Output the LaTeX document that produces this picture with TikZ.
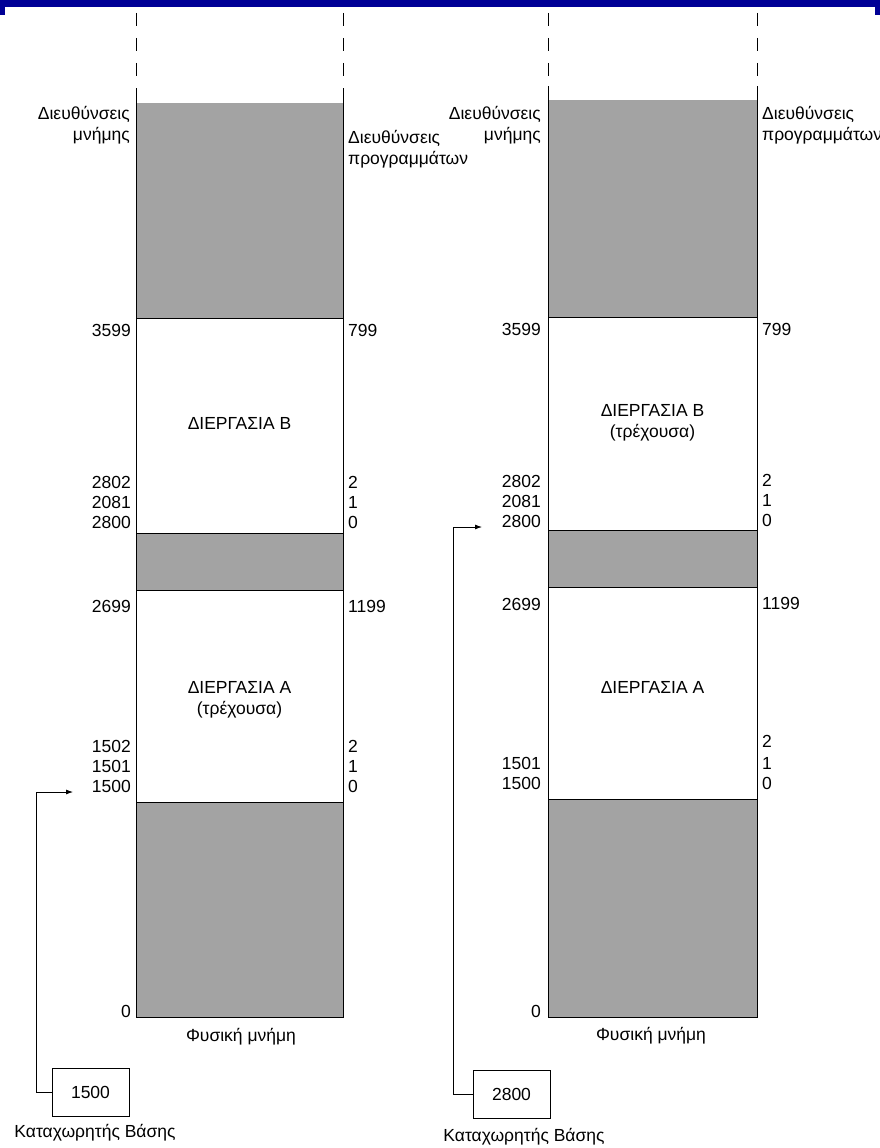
\documentclass[tikz,border=0pt]{standalone}
\usepackage{fontspec}
\setmainfont{Liberation Sans}
\usetikzlibrary{arrows.meta}
\definecolor{barblue}{RGB}{0,0,150}

\begin{document}
\begin{tikzpicture}[x=1pt, y=-1pt,
  font=\fontsize{17.5}{21}\selectfont,
  lab/.style={inner sep=0pt},
  lft/.style={lab, anchor=base east, align=right},
  rgt/.style={lab, anchor=base west, align=left},
  mid/.style={lab, anchor=base, align=center},
  free/.style={fill=black!36},
  col/.style={line width=1pt},
  rail/.style={col, dash pattern=on 13pt off 12pt},
  regbox/.style={draw, line width=0.9pt, minimum width=77pt, minimum height=48pt, inner sep=0pt},
  arr/.style={-{Latex[length=7pt,width=5pt]}, line width=0.8pt}
]
\useasboundingbox (0,0) rectangle (880,1148);
% ----- slide bar -----
\fill[barblue] (0,0) rectangle (880,7);
\fill[barblue] (0,7) rectangle (5,15);
\fill[barblue] (875,7) rectangle (880,15);

% ----- left memory (process A running) -----
\fill[free] (136,103) rectangle (343,318);
\fill[free] (136,533) rectangle (343,590);
\fill[free] (136,802) rectangle (343,1017);
\draw[col] (136,88) -- (136,1017) -- (343,1017) -- (343,88);
\foreach \y in {318,533,590,802}{\draw[col] (136,\y) -- (343,\y);}
\draw[rail] (136,13) -- (136,88);
\draw[rail] (343,13) -- (343,88);

% two-line labels sit on the baseline of their last line
\node[lft] (memL) at (130,140) {Διευθύνσεις\\μνήμης};
\node[rgt] (progL) at (348,164) {Διευθύνσεις\\προγραμμάτων};
\foreach \v/\y in {3599/336, 2802/488, 2081/508, 2800/528, 2699/612, 1502/752, 1501/772, 1500/792, 0/1017}
  {\node[lft] (aL\v) at (131,\y) {\v};}
\foreach \v/\y in {799/336, 2/488, 1/508, 0/528}
  {\node[rgt] (bL\v) at (348,\y) {\v};}
\foreach \v/\y in {1199/612, 2/752, 1/772, 0/792}
  {\node[rgt] (cL\v) at (348,\y) {\v};}
\node[mid] (procBL) at (239.5,429) {ΔΙΕΡΓΑΣΙΑ Β};
\node[mid] (procAL) at (239.5,714) {ΔΙΕΡΓΑΣΙΑ Α\\(τρέχουσα)};
\node[mid] (physL) at (241,1041) {Φυσική μνήμη};

% ----- right memory (process B running) -----
\fill[free] (548,100) rectangle (757,317);
\fill[free] (548,530) rectangle (757,587);
\fill[free] (548,799) rectangle (757,1017);
\draw[col] (548,86) -- (548,1017) -- (757,1017) -- (757,86);
\foreach \y in {317,530,587,799}{\draw[col] (548,\y) -- (757,\y);}
\draw[rail] (548,13) -- (548,86);
\draw[rail] (757,13) -- (757,86);

\node[lft] (memR) at (541,140) {Διευθύνσεις\\μνήμης};
\node[rgt] (progR) at (762,140) {Διευθύνσεις\\προγραμμάτων};
\foreach \v/\y in {3599/335, 2802/487, 2081/507, 2800/527, 2699/610, 1501/769, 1500/789, 0/1017}
  {\node[lft] (aR\v) at (541,\y) {\v};}
\foreach \v/\y in {799/335, 2/486, 1/506, 0/526}
  {\node[rgt] (bR\v) at (762,\y) {\v};}
\foreach \v/\y in {1199/609, 2/747, 1/769, 0/789}
  {\node[rgt] (cR\v) at (762,\y) {\v};}
\node[mid] (procBR) at (652.5,437) {ΔΙΕΡΓΑΣΙΑ Β\\(τρέχουσα)};
\node[mid] (procAR) at (652.5,693) {ΔΙΕΡΓΑΣΙΑ Α};
\node[mid] (physR) at (651,1040) {Φυσική μνήμη};

% ----- base registers -----
\coordinate (ptrL) at (73,792);
\coordinate (ptrR) at (482,527);
\node[regbox] (regL) at (90.5,1092) {1500};
\node[regbox] (regR) at (511.5,1094) {2800};
\node[mid] (capL) at (95,1137) {Καταχωρητής Βάσης};
\node[mid] (capR) at (524,1141) {Καταχωρητής Βάσης};
\draw[arr] (regL.west) -- ++(-15,0) |- (ptrL);
\draw[arr] (regR.west) -- ++(-19,0) |- (ptrR);
\end{tikzpicture}
\end{document}
